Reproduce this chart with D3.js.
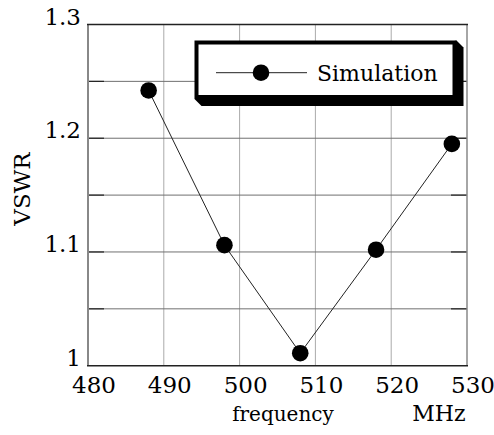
<!DOCTYPE html>
<html>
<head>
<meta charset="utf-8">
<script src="https://cdn.jsdelivr.net/npm/d3@7"></script>
<style>
  body { margin: 0; background: #fff; }
</style>
</head>
<body>
<svg id="chart" width="494" height="435"></svg>
<script>
// data
const frequency = [488, 498, 508, 518, 528];
const vswr = [1.242, 1.106, 1.011, 1.102, 1.195];
const seriesName = "Simulation";

const xTicks = [480, 490, 500, 510, 520, 530];
const yTicks = [1, 1.1, 1.2, 1.3];
const yGrid = [1.05, 1.1, 1.15, 1.2, 1.25];

// Liberation Serif is not picked up here, DejaVu Serif is
const serif = "'DejaVu Serif', 'Liberation Serif', serif";

let svg = d3.select("#chart")
  .attr("font-family", serif);

// plot area
const plotLeft = 88, plotRight = 467, plotTop = 24.5, plotBottom = 365.7;

let x = d3.scaleLinear().domain([480, 530]).range([plotLeft, plotRight]);
let y = d3.scaleLinear().domain([1, 1.3]).range([plotBottom, plotTop]);

let g = svg.append("g");

// vertical grid
g.selectAll(".vgrid")
  .data(xTicks.slice(1, -1))
  .enter()
  .append("line")
  .attr("x1", d => x(d))
  .attr("x2", d => x(d))
  .attr("y1", plotTop)
  .attr("y2", plotBottom)
  .attr("stroke", "#aaa")
  .attr("stroke-width", 1);

// horizontal grid
g.selectAll(".hgrid")
  .data(yGrid)
  .enter()
  .append("line")
  .attr("x1", plotLeft)
  .attr("x2", plotRight)
  .attr("y1", d => y(d))
  .attr("y2", d => y(d))
  .attr("stroke", "#707070")
  .attr("stroke-width", 1);

// inward ticks on left and right
g.selectAll(".ltick")
  .data(yGrid)
  .enter()
  .append("line")
  .attr("x1", plotLeft)
  .attr("x2", plotLeft + 16)
  .attr("y1", d => y(d))
  .attr("y2", d => y(d))
  .attr("stroke", "#222")
  .attr("stroke-width", 1.2);

g.selectAll(".rtick")
  .data(yGrid)
  .enter()
  .append("line")
  .attr("x1", plotRight - 16)
  .attr("x2", plotRight)
  .attr("y1", d => y(d))
  .attr("y2", d => y(d))
  .attr("stroke", "#222")
  .attr("stroke-width", 1.2);

// frame
g.append("line").attr("x1", plotLeft).attr("x2", plotLeft).attr("y1", plotTop).attr("y2", plotBottom)
  .attr("stroke", "#888").attr("stroke-width", 2);
g.append("line").attr("x1", plotRight).attr("x2", plotRight).attr("y1", plotTop).attr("y2", plotBottom)
  .attr("stroke", "#888").attr("stroke-width", 1.5);
g.append("line").attr("x1", plotLeft - 1).attr("x2", plotRight + 1).attr("y1", plotTop).attr("y2", plotTop)
  .attr("stroke", "#222").attr("stroke-width", 1.5);
g.append("line").attr("x1", plotLeft - 1).attr("x2", plotRight + 1).attr("y1", plotBottom).attr("y2", plotBottom)
  .attr("stroke", "#222").attr("stroke-width", 1.5);

// tick labels
g.selectAll(".xlabel")
  .data(xTicks)
  .enter()
  .append("text")
  .attr("x", d => x(d) + 6)
  .attr("y", 393)
  .attr("text-anchor", "middle")
  .attr("font-size", 23)
  .text(d => d);

g.selectAll(".ylabel")
  .data(yTicks)
  .enter()
  .append("text")
  .attr("x", 81)
  .attr("y", d => y(d))
  .attr("text-anchor", "end")
  .attr("font-size", 23)
  .text(d => d);

// axis titles
svg.append("text")
  .attr("x", 283)
  .attr("y", 421)
  .attr("text-anchor", "middle")
  .attr("font-size", 20)
  .text("frequency");

svg.append("text")
  .attr("x", 439)
  .attr("y", 421)
  .attr("text-anchor", "middle")
  .attr("font-size", 22)
  .text("MHz");

svg.append("text")
  .attr("transform", "translate(30,189) rotate(-90)")
  .attr("text-anchor", "middle")
  .attr("font-size", 23)
  .text("VSWR");

// series
let line = d3.line()
  .x((d, i) => x(frequency[i]))
  .y(d => y(d));

g.append("path")
  .attr("d", line(vswr))
  .attr("fill", "none")
  .attr("stroke", "#222")
  .attr("stroke-width", 1);

g.selectAll(".dot")
  .data(vswr)
  .enter()
  .append("circle")
  .attr("cx", (d, i) => x(frequency[i]))
  .attr("cy", d => y(d))
  .attr("r", 8.3)
  .attr("fill", "#000");

// legend with offset shadow
const lx0 = 194.5, ly0 = 40.5, lx1 = 456.5, ly1 = 99, sh = 7;
let legend = svg.append("g");

legend.append("polygon")
  .attr("points", [
    [lx1, ly0], [lx1 + sh, ly0 + sh], [lx1 + sh, ly1 + sh],
    [lx0 + sh, ly1 + sh], [lx0, ly1]
  ].join(" "))
  .attr("fill", "#000");

legend.append("rect")
  .attr("x", lx0 + 2)
  .attr("y", ly0 + 2)
  .attr("width", lx1 - lx0 - 4)
  .attr("height", ly1 - ly0 - 4)
  .attr("fill", "#fff")
  .attr("stroke", "#000")
  .attr("stroke-width", 4);

legend.append("line")
  .attr("x1", 216)
  .attr("x2", 307)
  .attr("y1", 72.7)
  .attr("y2", 72.7)
  .attr("stroke", "#222")
  .attr("stroke-width", 1);

legend.append("circle")
  .attr("cx", 261)
  .attr("cy", 72.7)
  .attr("r", 8.3)
  .attr("fill", "#000");

legend.append("text")
  .attr("x", 317)
  .attr("y", 81)
  .attr("font-size", 22)
  .text(seriesName);
</script>
</body>
</html>
